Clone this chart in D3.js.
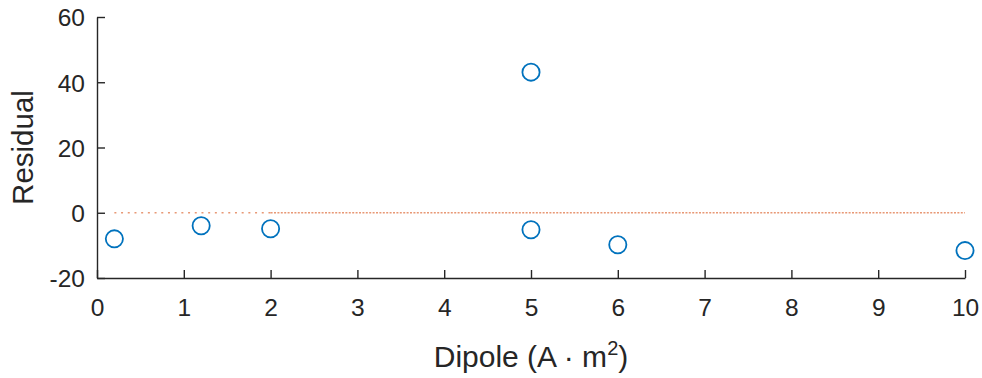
<!DOCTYPE html>
<html>
<head>
<meta charset="utf-8">
<script src="https://cdn.jsdelivr.net/npm/d3@7"></script>
<style>
  html, body { margin: 0; padding: 0; background: #fff; }
  svg { display: block; font-family: "Liberation Sans", Arial, sans-serif; }
</style>
</head>
<body>
<svg id="chart" width="982" height="378"></svg>
<script>
// Residuals of the dipole fit
const dipole   = [0.2, 1.2, 2, 5, 5, 6, 10];
const residual = [-8, -4, -4.9, 43.1, -5.2, -9.8, -11.6];
const xTicks = [0, 1, 2, 3, 4, 5, 6, 7, 8, 9, 10];
const yTicks = [-20, 0, 20, 40, 60];
// zero reference line, drawn in two stretches
const zeroSegA = [0.2, 2];
const zeroSegB = [2, 10];

const svg = d3.select("#chart");
const margin = { left: 97, right: 17, top: 17, bottom: 100 };
const W = 982, H = 378;

const x = d3.scaleLinear().domain([0, 10]).range([margin.left, W - margin.right]);
const y = d3.scaleLinear().domain([-20, 60]).range([H - margin.bottom, margin.top]);

const axisColor = "#262626";
const fmt = d => String(d);

// x axis
const gx = svg.append("g")
  .attr("transform", `translate(0,${y(-20)})`)
  .call(d3.axisBottom(x).tickValues(xTicks).tickFormat(fmt)
    .tickSizeInner(-8).tickSizeOuter(0).tickPadding(21));
// y axis
const gy = svg.append("g")
  .attr("transform", `translate(${x(0)},0)`)
  .call(d3.axisLeft(y).tickValues(yTicks).tickFormat(fmt)
    .tickSizeInner(-8).tickSizeOuter(0).tickPadding(12));

[gx, gy].forEach(g => {
  g.select(".domain").attr("stroke", axisColor).attr("stroke-width", 1.4);
  g.selectAll(".tick line").attr("stroke", axisColor).attr("stroke-width", 1.4);
  g.selectAll(".tick text").attr("fill", axisColor)
    .style("font-size", "24.5px").style("font-family", "'Liberation Sans', Arial, sans-serif");
});
gy.selectAll(".tick text").attr("dy", "0.36em");

// zero line
const line = d3.line().x(d => x(d)).y(() => y(0));
svg.append("path").datum(zeroSegA).attr("d", line)
  .attr("fill", "none").attr("stroke", "#D95319").attr("stroke-opacity", 0.6)
  .attr("stroke-width", 1.5).attr("stroke-dasharray", "2,4.7");
svg.append("path").datum(zeroSegB).attr("d", line)
  .attr("fill", "none").attr("stroke", "#D95319").attr("stroke-opacity", 0.6)
  .attr("stroke-width", 1.5).attr("stroke-dasharray", "2,1.4");

// residual markers
svg.append("g").selectAll("circle")
  .data(dipole.map((d, i) => [d, residual[i]]))
  .join("circle")
  .attr("cx", d => x(d[0]))
  .attr("cy", d => y(d[1]))
  .attr("r", 8.6)
  .attr("fill", "none")
  .attr("stroke", "#0072BD")
  .attr("stroke-width", 1.8);

// axis labels
svg.append("text")
  .attr("x", (x(0) + x(10)) / 2)
  .attr("y", 367)
  .attr("text-anchor", "middle")
  .attr("fill", axisColor)
  .style("font-size", "30px")
  .html('Dipole (A · m<tspan dy="-12" font-size="20px">2</tspan><tspan dy="12">)</tspan>');

svg.append("text")
  .attr("transform", `translate(33,${(y(-20) + y(60)) / 2}) rotate(-90)`)
  .attr("text-anchor", "middle")
  .attr("fill", axisColor)
  .style("font-size", "29.5px")
  .text("Residual");
</script>
</body>
</html>
